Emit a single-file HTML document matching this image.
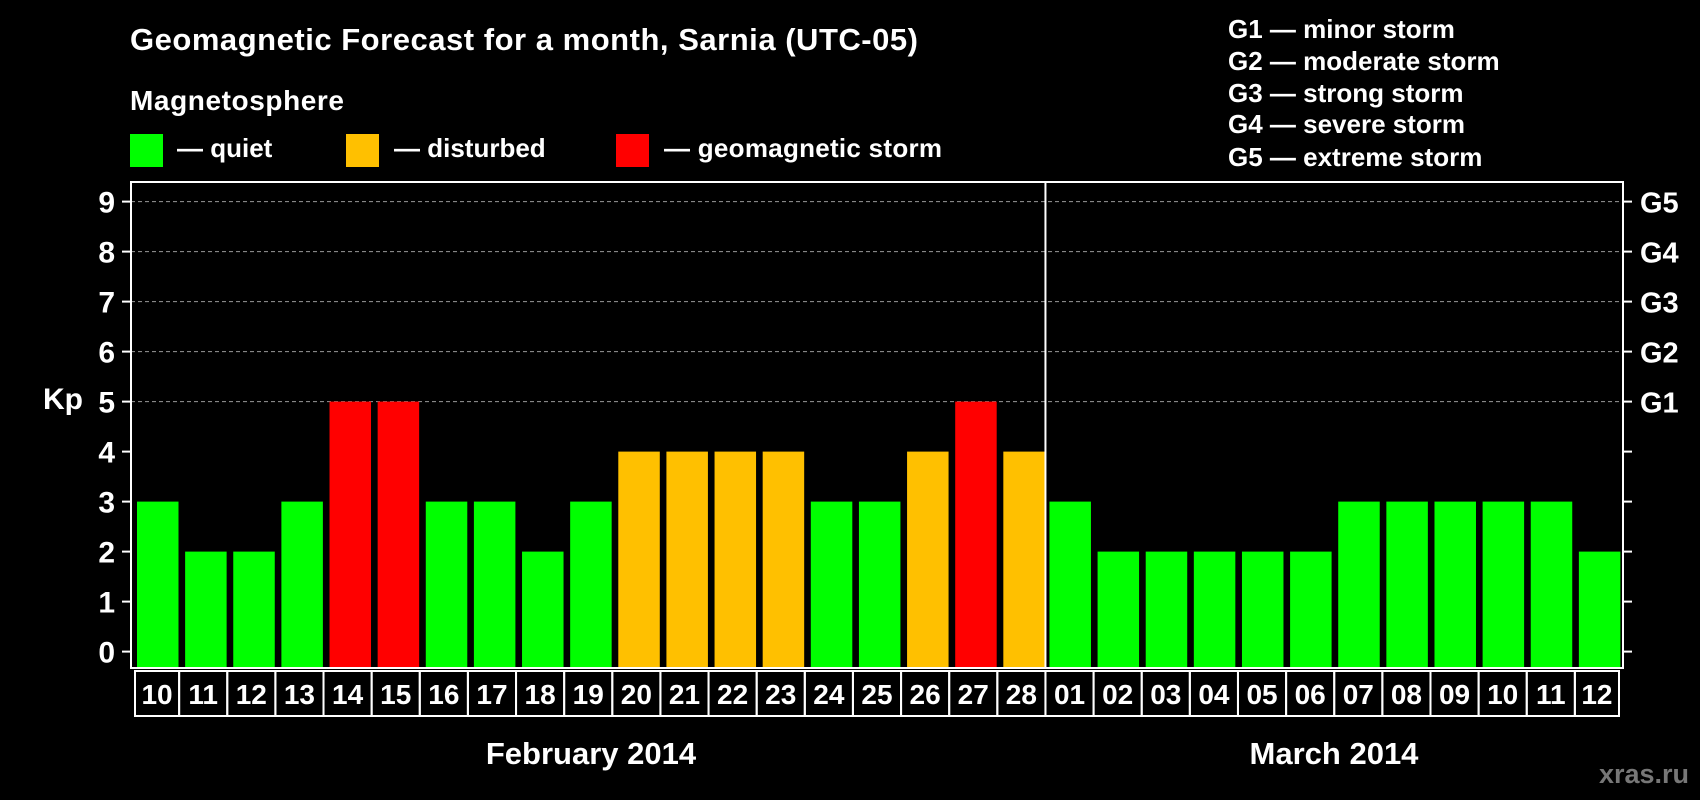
<!DOCTYPE html>
<html><head><meta charset="utf-8"><style>
html,body{margin:0;padding:0;background:#000;}
svg{display:block;font-family:"Liberation Sans",Arial,sans-serif;font-weight:bold;}
</style></head><body>
<svg id="chart" width="1700" height="800" viewBox="0 0 1700 800">
<text x="130" y="50" fill="#fff" font-size="31" textLength="788">Geomagnetic Forecast for a month, Sarnia (UTC-05)</text>
<text x="130" y="110" fill="#fff" font-size="28" textLength="214">Magnetosphere</text>
<rect x="130" y="134" width="33" height="33" fill="#00ff00"/>
<text x="177" y="157" fill="#fff" font-size="26">— quiet</text>
<rect x="346" y="134" width="33" height="33" fill="#ffc000"/>
<text x="394" y="157" fill="#fff" font-size="26">— disturbed</text>
<rect x="616" y="134" width="33" height="33" fill="#ff0000"/>
<text x="664" y="157" fill="#fff" font-size="26" textLength="278">— geomagnetic storm</text>
<g fill="#fff" font-size="26">
<text x="1228" y="38">G1 — minor storm</text>
<text x="1228" y="70">G2 — moderate storm</text>
<text x="1228" y="102">G3 — strong storm</text>
<text x="1228" y="133">G4 — severe storm</text>
<text x="1228" y="166">G5 — extreme storm</text>
</g>
<text x="63" y="409" fill="#fff" font-size="30" text-anchor="middle">Kp</text>
<text x="591" y="764" fill="#fff" font-size="31" text-anchor="middle">February 2014</text>
<text x="1334" y="764" fill="#fff" font-size="31" text-anchor="middle">March 2014</text>
<text x="1689" y="783" fill="#777" font-size="27" text-anchor="end">xras.ru</text>
<g id="plot"></g>
</svg>
<script>
const days = ["10","11","12","13","14","15","16","17","18","19","20","21","22","23","24","25","26","27","28","01","02","03","04","05","06","07","08","09","10","11","12"];
const kpValues = [3,2,2,3,5,5,3,3,2,3,4,4,4,4,3,3,4,5,4,3,2,2,2,2,2,3,3,3,3,3,2];
const yTicks = [0,1,2,3,4,5,6,7,8,9];
const gLabels = ["G1","G2","G3","G4","G5"];
const febCount = 19;

const NS="http://www.w3.org/2000/svg";
const g=document.getElementById('plot');
const L=131,T=182,R=1623,B=668;
const slotW=(R-L)/days.length;
const D=L+febCount*slotW;
function y(v){return 651.6-v*50;}
function slotX(i){return {x:L+i*slotW,w:slotW};}
function mk(t,a){const e=document.createElementNS(NS,t);for(const k in a)e.setAttribute(k,a[k]);g.appendChild(e);return e;}
function color(v){return v>=5?"#ff0000":v>=4?"#ffc000":"#00ff00";}
yTicks.forEach(v=>{
  const yy=y(v);
  if(v>=5){const l=mk('line',{x1:L,x2:R,y1:yy,y2:yy,stroke:'#999','stroke-width':1,'stroke-dasharray':'4,3'});
  
  }
  const t1=mk('line',{x1:122,x2:L,y1:yy,y2:yy,stroke:'#fff','stroke-width':2});
  
  
  const t2=mk('line',{x1:R,x2:R+9,y1:yy,y2:yy,stroke:'#fff','stroke-width':2});
  
  
  const tx=mk('text',{x:115,y:yy+11,fill:'#fff','font-size':30,'text-anchor':'end'});
  tx.textContent=v;
  
  
});
gLabels.forEach((s,i)=>{
  const tx=mk('text',{x:1640,y:y(5+i)+11,fill:'#fff','font-size':29});
  tx.textContent=s;
  
  
});
kpValues.forEach((v,i)=>{
  const s=slotX(i);const off=i<febCount?6:4;
  const r=mk('rect',{x:s.x+off,y:y(v),width:41.5,height:B-y(v),fill:color(v)});
  
  
  const bx0=i===0?s.x+4:s.x, bx1=i===days.length-1?s.x+s.w-4:s.x+s.w;
  const bx=mk('rect',{x:bx0,y:671,width:bx1-bx0,height:45,fill:'none',stroke:'#fff','stroke-width':2});
  
  
  const tx=mk('text',{x:(bx0+bx1)/2,y:704,fill:'#fff','font-size':28,'text-anchor':'middle'});
  tx.textContent=days[i];
  
  
});
const fr=mk('rect',{x:L,y:T,width:R-L,height:B-T,fill:'none',stroke:'#fff','stroke-width':2});


const dv=mk('line',{x1:D,x2:D,y1:T,y2:B,stroke:'#fff','stroke-width':2});


</script>
</body></html>
